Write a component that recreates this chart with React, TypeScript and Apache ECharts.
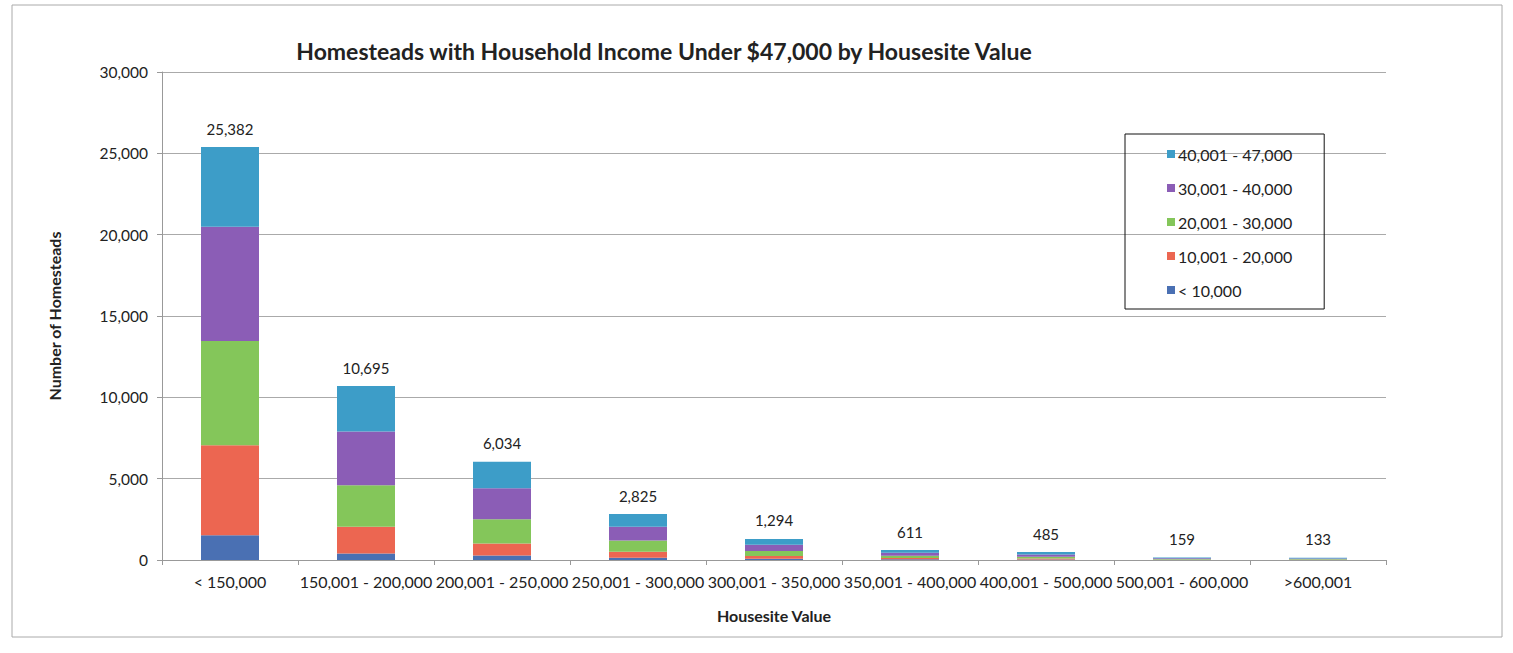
import React, { useEffect, useRef } from "react";
import * as echarts from "echarts";

const categories = [
  "< 150,000",
  "150,001 - 200,000",
  "200,001 - 250,000",
  "250,001 - 300,000",
  "300,001 - 350,000",
  "350,001 - 400,000",
  "400,001 - 500,000",
  "500,001 - 600,000",
  ">600,001",
];

const under10k = [1520, 400, 270, 145, 80, 40, 30, 10, 8];
const inc10to20k = [5530, 1650, 745, 360, 170, 80, 60, 20, 17];
const inc20to30k = [6420, 2550, 1490, 700, 300, 140, 110, 35, 30];
const inc30to40k = [7010, 3300, 1900, 840, 380, 180, 145, 50, 40];
const inc40to47k = [4902, 2795, 1629, 780, 364, 171, 140, 44, 38];

const seriesNames = ["< 10,000", "10,001 - 20,000", "20,001 - 30,000", "30,001 - 40,000", "40,001 - 47,000"];
const seriesColors = ["#4a70b3", "#ec6651", "#84c65a", "#8b5db6", "#3d9dc8"];
const yTicks = [0, 5000, 10000, 15000, 20000, 25000, 30000];

const FONT = "Lato, 'Open Sans', sans-serif";

export default function App() {
  const ref = useRef<HTMLDivElement>(null);
  useEffect(() => {
    if (!ref.current) return;
    const chart = echarts.init(ref.current, undefined, { renderer: "svg" });
    const data = [under10k, inc10to20k, inc20to30k, inc30to40k, inc40to47k];
    const totals = categories.map((_, i) => data.reduce((s, arr) => s + arr[i], 0));
    const series: any[] = data.map((arr, k) => ({
      name: seriesNames[k],
      type: "bar",
      stack: "total",
      barWidth: 58,
      data: arr,
      itemStyle: { color: seriesColors[k] },
      label:
        k === data.length - 1
          ? {
              show: true,
              position: "top",
              distance: 11,
              color: "#222",
              fontFamily: FONT,
              fontSize: 15,
              formatter: (p: any) => totals[p.dataIndex].toLocaleString("en-US"),
            }
          : { show: false },
    }));
    chart.setOption({
      animation: false,
      textStyle: { fontFamily: FONT },
      title: {
        text: "Homesteads with Household Income Under $47,000 by Housesite Value",
        left: 659,
        textAlign: "center",
        top: 34,
        textStyle: { fontFamily: FONT, fontSize: 23, fontWeight: "bold", color: "#222" },
      },
      legend: {
        orient: "vertical",
        left: 1125,
        top: 134,
        data: [...seriesNames].reverse(),
        itemWidth: 8,
        itemHeight: 8,
        itemGap: 18,
        borderColor: "#111",
        borderWidth: 1,
        padding: [12, 32, 11, 42],
        icon: "rect",
        textStyle: { fontFamily: FONT, fontSize: 16, color: "#222", padding: [0, 0, 0, -2] },
      },
      grid: { left: 162, right: 127, top: 72, bottom: 93 },
      xAxis: {
        type: "category",
        data: categories,
        name: "Housesite Value",
        nameLocation: "middle",
        nameGap: 47,
        nameTextStyle: { fontFamily: FONT, fontSize: 16, fontWeight: "bold", color: "#222" },
        axisLine: { lineStyle: { color: "#999" } },
        axisTick: { show: true, alignWithLabel: false, length: 5, lineStyle: { color: "#999" } },
        axisLabel: { fontFamily: FONT, fontSize: 16, color: "#222", margin: 13, interval: 0 },
      },
      yAxis: {
        type: "value",
        min: 0,
        max: 30000,
        interval: 5000,
        name: "Number of Homesteads",
        nameLocation: "middle",
        nameGap: 100,
        nameTextStyle: { fontFamily: FONT, fontSize: 16, fontWeight: "bold", color: "#222" },
        axisLine: { show: true, lineStyle: { color: "#999" } },
        axisTick: { show: true, length: 5, lineStyle: { color: "#999" } },
        splitLine: { lineStyle: { color: "#aaa" } },
        axisLabel: {
          fontFamily: FONT,
          fontSize: 15.5,
          color: "#222",
          margin: 14,
          formatter: (v: number) => (yTicks.includes(v) ? v.toLocaleString("en-US") : ""),
        },
      },
      graphic: [
        {
          type: "rect",
          shape: { x: 12, y: 5, width: 1490, height: 632 },
          style: { fill: "none", stroke: "#aaa", lineWidth: 1 },
          silent: true,
        },
      ],
      series,
    });
    return () => chart.dispose();
  }, []);
  return (
    <div
      ref={ref}
      style={{ position: "absolute", left: 0, top: 0, width: 1513, height: 653, background: "#fff" }}
    />
  );
}
